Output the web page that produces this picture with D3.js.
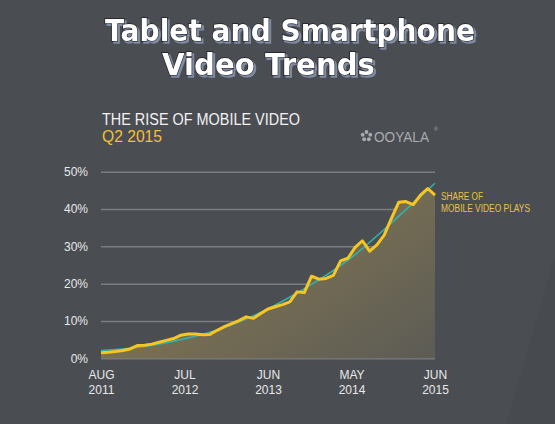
<!DOCTYPE html>
<html>
<head>
<meta charset="utf-8">
<script src="https://cdn.jsdelivr.net/npm/d3@7"></script>
<style>
  html, body { margin: 0; padding: 0; background: #4a4d52; }
  svg { display: block; }
</style>
</head>
<body>
<svg id="chart" width="555" height="424"></svg>
<script>
// ---- data ----
const shareValues = [
  1.5, 1.6, 1.8, 2.1, 2.5, 3.4, 3.5, 3.8, 4.3, 4.8,
  5.3, 6.2, 6.5, 6.5, 6.3, 6.4, 7.5, 8.5, 9.3, 10.1,
  11.1, 10.7, 12.0, 13.2, 13.8, 14.4, 15.1, 17.8, 17.6, 22.0,
  21.2, 21.4, 22.2, 26.1, 26.8, 29.7, 31.5, 28.7, 30.4, 33.0,
  37.5, 41.8, 42.0, 41.2, 43.7, 45.5, 43.7
];
const trendIdx    = [0, 5, 10, 15, 20, 25, 30, 35, 40, 46];
const trendValues = [2.1, 2.9, 4.6, 7.0, 10.5, 15.3, 21.0, 27.8, 36.3, 46.9];
const xTickIdx    = [0, 11.5, 23, 34.5, 46];
const xTickMonth  = ["AUG", "JUL", "JUN", "MAY", "JUN"];
const xTickYear   = ["2011", "2012", "2013", "2014", "2015"];
const yTicks      = [0, 10, 20, 30, 40, 50];

// ---- setup ----
const svg = d3.select("#chart");
const W = 555, H = 424;
const defs = svg.append("defs");

svg.append("rect").attr("width", W).attr("height", H).attr("fill", "#4a4d52");
svg.append("polygon")
  .attr("points", "506,424 548,280 555,255 555,424")
  .attr("fill", "rgba(0,0,0,0.03)");

const x = d3.scaleLinear().domain([0, 46]).range([101, 435]);
const y = d3.scaleLinear().domain([0, 50]).range([358.3, 171.7]);

// ---- title ----
const shadow = defs.append("filter").attr("id", "titleShadow")
  .attr("x", "-10%").attr("y", "-30%").attr("width", "120%").attr("height", "160%");
shadow.append("feDropShadow").attr("dx", 2).attr("dy", 2).attr("stdDeviation", 0.3)
  .attr("flood-color", "#7f8aa3").attr("flood-opacity", 1);

const titleFont = "'DejaVu Sans', sans-serif";
function fancy(txt, tx, ty, len) {
  svg.append("text").text(txt)
    .attr("x", tx).attr("y", ty)
    .attr("textLength", len).attr("lengthAdjust", "spacingAndGlyphs")
    .attr("font-family", titleFont).attr("font-weight", "bold").attr("font-size", 31)
    .attr("fill", "#ffffff").attr("stroke", "#1e1f22").attr("stroke-width", 1.5)
    .attr("paint-order", "stroke")
    .attr("filter", "url(#titleShadow)");
}
fancy("Tablet and Smartphone", 105, 41, 370);
fancy("Video Trends", 162, 75, 213);

// ---- subtitle ----
svg.append("text").text("THE RISE OF MOBILE VIDEO")
  .attr("x", 102).attr("y", 125)
  .attr("textLength", 198).attr("lengthAdjust", "spacingAndGlyphs")
  .attr("font-family", "'Liberation Sans', Arial, sans-serif").attr("font-size", 16)
  .attr("fill", "#f2f2f2");
svg.append("text").text("Q2 2015")
  .attr("x", 102).attr("y", 141.5)
  .attr("textLength", 60).attr("lengthAdjust", "spacingAndGlyphs")
  .attr("font-family", "'Liberation Sans', Arial, sans-serif").attr("font-size", 16)
  .attr("fill", "#f2c232");

// ---- logo ----
const logo = svg.append("g").attr("transform", "translate(366.5,136)");
[0, 72, 144, 216, 288].forEach(a => {
  const r = (a - 90) * Math.PI / 180;
  logo.append("circle").attr("cx", 4 * Math.cos(r)).attr("cy", 4 * Math.sin(r))
    .attr("r", 1.9).attr("fill", "#a9abae");
});
svg.append("text").text("OOYALA")
  .attr("x", 374).attr("y", 141.5)
  .attr("textLength", 55).attr("lengthAdjust", "spacingAndGlyphs")
  .attr("font-family", "'Liberation Sans', Arial, sans-serif").attr("font-size", 15)
  .attr("fill", "#a9abae");
svg.append("text").text("®")
  .attr("x", 434).attr("y", 131)
  .attr("font-family", "'Liberation Sans', Arial, sans-serif").attr("font-size", 5)
  .attr("fill", "#a9abae");

// ---- gridlines and y labels ----
const yAxis = d3.axisLeft(y).tickValues(yTicks).tickSize(-(435 - 101))
  .tickFormat(d => d + "%").tickPadding(13);
const yg = svg.append("g").attr("transform", "translate(101,0)").call(yAxis);
yg.select(".domain").remove();
yg.selectAll(".tick line").attr("stroke", "#7a7c80").attr("stroke-width", 1.5);
yg.selectAll(".tick text")
  .attr("font-family", "'Liberation Sans', Arial, sans-serif").attr("font-size", 12)
  .attr("fill", "#e8e8e8");

// ---- area ----
const grad = defs.append("linearGradient").attr("id", "fillGrad")
  .attr("gradientUnits", "userSpaceOnUse")
  .attr("x1", 300).attr("y1", 180).attr("x2", 420).attr("y2", 360);
grad.append("stop").attr("offset", 0).attr("stop-color", "#807452");
grad.append("stop").attr("offset", 1).attr("stop-color", "#5d5c55");

const area = d3.area()
  .x((d, i) => x(i)).y0(y(0)).y1(d => y(d));
svg.append("path").datum(shareValues).attr("d", area).attr("fill", "url(#fillGrad)");

// ---- trend line ----
const trendLine = d3.line().x(d => x(d[0])).y(d => y(d[1])).curve(d3.curveNatural);
svg.append("path").datum(trendIdx.map((t, i) => [t, trendValues[i]]))
  .attr("d", trendLine).attr("fill", "none")
  .attr("stroke", "#2fb4ae").attr("stroke-width", 1.6);

// ---- share line ----
const line = d3.line().x((d, i) => x(i)).y(d => y(d));
svg.append("path").datum(shareValues).attr("d", line).attr("fill", "none")
  .attr("stroke", "#f7c623").attr("stroke-width", 3).attr("stroke-linejoin", "round");

// ---- x labels ----
const xAxis = d3.axisBottom(x).tickValues(xTickIdx).tickSize(0).tickFormat("");
const xg = svg.append("g").attr("transform", "translate(0,358.3)").call(xAxis);
xg.select(".domain").remove();
xg.selectAll(".tick").each(function(d, i) {
  const t = d3.select(this);
  t.append("text").text(xTickMonth[i]).attr("y", 20.5)
    .attr("text-anchor", "middle")
    .attr("font-family", "'Liberation Sans', Arial, sans-serif").attr("font-size", 12)
    .attr("fill", "#e8e8e8");
  t.append("text").text(xTickYear[i]).attr("y", 35.5)
    .attr("text-anchor", "middle")
    .attr("font-family", "'Liberation Sans', Arial, sans-serif").attr("font-size", 12)
    .attr("fill", "#e8e8e8");
});

// ---- series label ----
svg.append("text").text("SHARE OF")
  .attr("x", 441).attr("y", 199.5)
  .attr("textLength", 42).attr("lengthAdjust", "spacingAndGlyphs")
  .attr("font-family", "'Liberation Sans', Arial, sans-serif").attr("font-size", 10)
  .attr("fill", "#e9c446");
svg.append("text").text("MOBILE VIDEO PLAYS")
  .attr("x", 441).attr("y", 211.5)
  .attr("textLength", 89).attr("lengthAdjust", "spacingAndGlyphs")
  .attr("font-family", "'Liberation Sans', Arial, sans-serif").attr("font-size", 10)
  .attr("fill", "#e9c446");
</script>
</body>
</html>
